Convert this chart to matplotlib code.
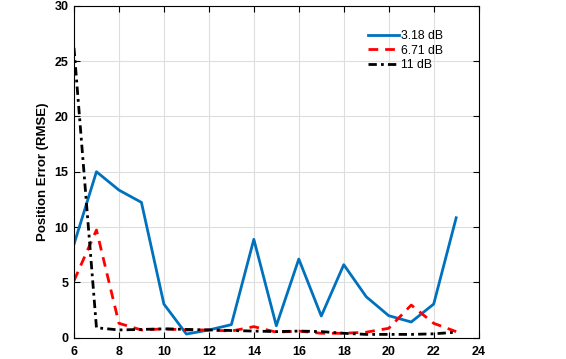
import matplotlib
matplotlib.use("Agg")
import matplotlib.pyplot as plt

x = list(range(6, 24))
blue = [8.44, 15.0, 13.34, 12.23, 3.04, 0.33, 0.7, 1.18, 8.89, 1.08, 7.11, 1.96, 6.6, 3.7, 1.99, 1.42, 3.04, 10.84]
red = [5.15, 9.73, 1.3, 0.7, 0.8, 0.7, 0.7, 0.6, 1.0, 0.5, 0.6, 0.4, 0.4, 0.5, 0.85, 2.95, 1.3, 0.55]
black = [26.2, 0.9, 0.7, 0.75, 0.8, 0.75, 0.7, 0.65, 0.6, 0.55, 0.6, 0.55, 0.4, 0.3, 0.3, 0.3, 0.35, 0.5]
labels = ["3.18 dB", "6.71 dB", "11 dB"]
xticks = [6, 8, 10, 12, 14, 16, 18, 20, 22, 24]
yticks = [0, 5, 10, 15, 20, 25, 30]

plt.rcParams['font.family'] = ['Liberation Sans', 'DejaVu Sans']
fig = plt.figure(figsize=(5.66, 3.59), dpi=100)
ax = fig.add_axes([0.1307, 0.0593, 0.715, 0.9247])
ax.plot(x, blue, color='#0072BD', lw=2, ls='-', label=labels[0])
ax.plot(x, red, color='#FF0000', lw=2, ls=(0, (3.5, 2.5)), label=labels[1])
ax.plot(x, black, color='black', lw=2, ls=(0, (3, 1.5, 1, 1.5)), label=labels[2])
ax.set_xlim(6, 24)
ax.set_ylim(0, 30)
ax.set_xticks(xticks)
ax.set_yticks(yticks)
ax.grid(True, color='#dedede', lw=0.8)
ax.set_axisbelow(True)
ax.tick_params(direction='in', top=True, right=True, length=4, width=0.8, labelsize=9)
ax.tick_params(axis='x', pad=6)
ax.tick_params(axis='y', pad=4)
for lab in ax.get_xticklabels() + ax.get_yticklabels():
    lab.set_fontweight('bold')
for s in ax.spines.values():
    s.set_linewidth(0.8)
ax.set_ylabel("Position Error (RMSE)", fontsize=9.5, fontweight='bold', labelpad=4)
leg = ax.legend(loc='upper left', bbox_to_anchor=(0.712, 0.945), frameon=False, fontsize=8.8,
                handlelength=2.5, handletextpad=0.15, labelspacing=0.2, borderpad=0)
fig.savefig("out.png", dpi=100)
